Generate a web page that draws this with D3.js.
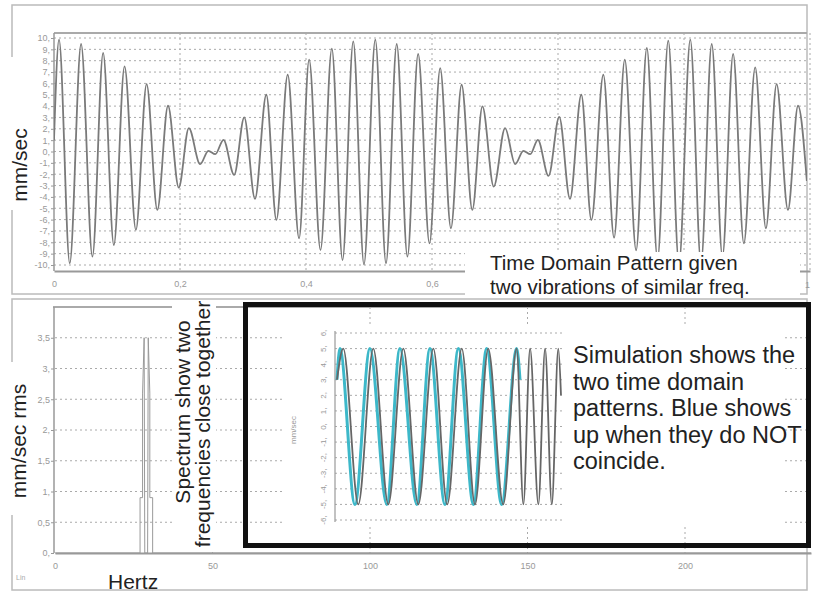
<!DOCTYPE html>
<html lang="en">
<head>
<meta charset="UTF-8">
<title>Beat vibration</title>
<script src="https://cdn.jsdelivr.net/npm/d3@7"></script>
<style>
  body{margin:0;background:#fff;}
  svg{display:block;font-family:"Liberation Sans",Arial,sans-serif;}
  .tick text{fill:#999;}
  .grid{stroke:#aaa;stroke-width:1;stroke-dasharray:2,3;}
</style>
</head>
<body>
<svg id="svg" width="814" height="592"></svg>
<script>
// time domain extrema (seconds, mm/sec)
var topT = [0, .008, .025, .043, .061, .078, .095, .112, .130, .147, .164, .181, .198, .214, .232, .245, .256,
  .269, .286, .302, .319, .337, .353, .371, .389, .405, .423, .441, .458, .475, .492, .510, .527, .544, .561,
  .578, .596, .613, .630, .647, .664, .680, .698, .716, .732, .745, .756, .768, .785, .802, .819, .837, .853,
  .872, .889, .906, .924, .941, .958, .975, .992, 1.010, 1.027, 1.044, 1.061, 1.078, 1.095, 1.113, 1.130,
  1.147, 1.165, 1.181, 1.195];
var topV = [1, 9.85, -9.85, 9.47, -9.26, 8.68, -8.24, 7.5, -6.9, 5.94, -5.15, 4.03, -3.18, 2.06, -1.12, .06, -.24,
  1.03, -2.06, 3.0, -4.18, 5.0, -6.03, 6.76, -7.65, 8.09, -8.68, 9.06, -9.56, 9.7, -9.94, 9.85, -9.85, 9.47, -9.26,
  8.59, -8.09, 7.35, -6.76, 5.88, -5.15, 3.97, -3.09, 2.06, -1.12, .06, -.24, 1.03, -2.15, 3.05, -4.18, 5.0, -6.03,
  6.76, -7.59, 8.09, -8.7, 9.12, -9.5, 9.76, -9.9, 9.85, -9.85, 9.47, -9.26, 8.59, -8.09, 7.41, -6.76,
  5.94, -5.15, 4.03, -2.6];
var topYTicks = d3.range(-10, 11);
var topXTicks = [0, .2, .4, .6, .8, 1, 1.2];
var topXLabels = [0, .2, .4, .6];   // 0,8 and 1 are hidden under the caption

// spectrum (Hz, mm/sec rms)
var specF = [0, 27.0, 27.0, 27.8, 27.8, 28.3, 28.5, 29.4, 29.6, 30.1, 30.1, 31.0, 31.0, 240];
var specA = [0, 0, 0.9, 0.9, 2.6, 3.5, 0, 0, 3.5, 2.6, 0.9, 0.9, 0, 0];
var specYTicks = [0, .5, 1, 1.5, 2, 2.5, 3, 3.5];
var specXTicks = [0, 50, 100, 150, 200];

// inset simulation, normalised time, mm/sec
var grayT = [0, .028, .095, .162, .229, .296, .363, .430, .492, .557, .616, .675, .742, .802, .832, .862, .899, .929, .959, .988, 1];
var grayV = [3, 5, -5, 5, -5, 5, -5, 5, -5, 5, -5, 5, -5, 5, -5, 5, -5, 5, -5, 5, 2];
var cyanT = [0, .013, .080, .147, .222, .281, .356, .415, .482, .542, .609, .668, .735, .802, .817];
var cyanV = [3, 5, -5, 5, -5, 5, -5, 5, -5, 5, -5, 5, -5, 5, 3];
var insetTicks = d3.range(-6, 7);

var svg = d3.select("svg");
var comma = function(d){ return String(d).replace(".", ","); };

// ---------- top panel ----------
svg.append("rect").attr("x", 12).attr("y", 5).attr("width", 795).attr("height", 289)
  .attr("fill", "none").attr("stroke", "#bbb").attr("stroke-width", 1.5);

var xTop = d3.scaleLinear().domain([0, 1.2]).range([54, 810]),
    yTop = d3.scaleLinear().domain([-10, 10]).range([265, 38]);

var gTop = svg.append("g");
gTop.selectAll(".hg").data(topYTicks).enter().append("line").attr("class", "grid")
  .attr("x1", 54).attr("x2", 807).attr("y1", d => yTop(d)).attr("y2", d => yTop(d));
gTop.selectAll(".vg").data(topXTicks.slice(1)).enter().append("line").attr("class", "grid")
  .attr("x1", d => xTop(d)).attr("x2", d => xTop(d)).attr("y1", 33).attr("y2", 271);

gTop.append("line").attr("x1", 54).attr("x2", 807).attr("y1", 33).attr("y2", 33).attr("stroke", "#aaa").attr("stroke-width", 2);
gTop.append("g").attr("transform", "translate(54,0)")
  .call(d3.axisLeft(yTop).tickValues(topYTicks).tickSize(3).tickPadding(1).tickFormat(d => d + ","))
  .call(g => g.select(".domain").remove())
  .call(g => g.selectAll("line").attr("stroke", "#999"))
  .call(g => g.selectAll("text").attr("font-size", 9));
gTop.append("line").attr("x1", 54).attr("x2", 54).attr("y1", 33).attr("y2", 271).attr("stroke", "#999").attr("stroke-width", 1.5);
gTop.append("g").attr("transform", "translate(0,271)")
  .call(d3.axisBottom(xTop).tickValues(topXLabels).tickSize(0).tickPadding(10).tickFormat(comma))
  .call(g => g.select(".domain").attr("stroke", "#999").attr("stroke-width", 2))
  .call(g => g.selectAll("text").attr("font-size", 9));
// last tick label sits at the right edge, only its first digit fits
svg.append("text").attr("x", xTop(1.2)).attr("y", 288).attr("text-anchor", "end")
  .attr("font-size", 9).attr("fill", "#999").text("1");

svg.append("clipPath").attr("id", "clipTop").append("rect").attr("x", 54).attr("y", 33).attr("width", 753).attr("height", 238);
gTop.append("path").datum(topT.map((t, i) => [t, topV[i]]))
  .attr("clip-path", "url(#clipTop)")
  .attr("fill", "none").attr("stroke", "#7a7a7a").attr("stroke-width", 1.8)
  .attr("d", d3.line().x(d => xTop(d[0])).y(d => yTop(d[1])).curve(d3.curveMonotoneX));

// ---------- bottom panel ----------
svg.append("rect").attr("x", 12).attr("y", 299).attr("width", 795).attr("height", 291)
  .attr("fill", "none").attr("stroke", "#bbb").attr("stroke-width", 1.5);

var xSp = d3.scaleLinear().domain([0, 240]).range([55, 811]),
    ySp = d3.scaleLinear().domain([0, 4]).range([553, 307]);

var gSp = svg.append("g");
gSp.selectAll(".hg").data(specYTicks.slice(1)).enter().append("line").attr("class", "grid")
  .attr("x1", 55).attr("x2", 807).attr("y1", d => ySp(d)).attr("y2", d => ySp(d));
gSp.selectAll(".vg").data(specXTicks.slice(1)).enter().append("line").attr("class", "grid")
  .attr("x1", d => xSp(d)).attr("x2", d => xSp(d)).attr("y1", 307).attr("y2", 553);
gSp.append("line").attr("x1", 53).attr("x2", 807).attr("y1", 307).attr("y2", 307).attr("stroke", "#aaa").attr("stroke-width", 2);
gSp.append("g").attr("transform", "translate(54,0)")
  .call(d3.axisLeft(ySp).tickValues(specYTicks).tickSize(3).tickPadding(1).tickFormat(d => d % 1 ? comma(d) : d + ","))
  .call(g => g.select(".domain").remove())
  .call(g => g.selectAll("line").attr("stroke", "#999"))
  .call(g => g.selectAll("text").attr("font-size", 9));
gSp.append("line").attr("x1", 54).attr("x2", 54).attr("y1", 307).attr("y2", 553).attr("stroke", "#999").attr("stroke-width", 1.5);
gSp.append("g").attr("transform", "translate(0,553)")
  .call(d3.axisBottom(xSp).tickValues(specXTicks).tickSize(0).tickPadding(10))
  .call(g => g.select(".domain").attr("stroke", "#999").attr("stroke-width", 2))
  .call(g => g.selectAll("text").attr("font-size", 9));
gSp.append("path").datum(specF.map((f, i) => [f, specA[i]]))
  .attr("fill", "none").attr("stroke", "#999").attr("stroke-width", 1)
  .attr("d", d3.line().x(d => xSp(d[0])).y(d => ySp(d[1])));
svg.append("text").attr("x", 16).attr("y", 580).attr("font-size", 7).attr("fill", "#aaa").text("Lin");

// ---------- inset simulation ----------
svg.append("rect").attr("x", 285).attr("y", 327).attr("width", 497).attr("height", 198).attr("fill", "#fff");
var xIn = d3.scaleLinear().domain([0, 1]).range([337, 561]),
    yIn = d3.scaleLinear().domain([-6, 6]).range([520, 333]);
var gIn = svg.append("g");
gIn.selectAll(".hg").data(insetTicks).enter().append("line").attr("class", "grid")
  .attr("x1", 335).attr("x2", 563).attr("y1", d => yIn(d)).attr("y2", d => yIn(d));
gIn.append("line").attr("x1", 335).attr("x2", 335).attr("y1", 331).attr("y2", 522).attr("stroke", "#999").attr("stroke-width", 1.2);
gIn.selectAll(".lab").data(insetTicks).enter().append("text")
  .attr("transform", d => "translate(326," + yIn(d) + ") rotate(-90)")
  .attr("text-anchor", "middle").attr("font-size", 8).attr("fill", "#999")
  .text(d => d + ",");
gIn.append("text").attr("transform", "translate(296,430) rotate(-90)")
  .attr("text-anchor", "middle").attr("font-size", 8).attr("fill", "#999").text("mm/sec");
var lineIn = d3.line().x(d => xIn(d[0])).y(d => yIn(d[1])).curve(d3.curveMonotoneX);
gIn.append("path").datum(cyanT.map((t, i) => [t, cyanV[i]]))
  .attr("fill", "none").attr("stroke", "#3db8c9").attr("stroke-width", 3).attr("d", lineIn);
gIn.append("path").datum(grayT.map((t, i) => [t, grayV[i]]))
  .attr("fill", "none").attr("stroke", "#666").attr("stroke-width", 1.8).attr("d", lineIn);

// ---------- annotations ----------
svg.append("rect").attr("x", 245.5).attr("y", 304.5).attr("width", 563).attr("height", 241)
  .attr("fill", "none").attr("stroke", "#111").attr("stroke-width", 5);

var boxText = ["Simulation shows the", "two time domain", "patterns. Blue shows", "up when they do NOT", "coincide."];
svg.append("g").selectAll("text").data(boxText).enter().append("text")
  .attr("x", 573).attr("y", (d, i) => 363 + i * 26.5)
  .attr("font-size", 23.5).attr("fill", "#222").text(d => d);

svg.append("rect").attr("x", 465).attr("y", 252).attr("width", 335).attr("height", 46).attr("fill", "#fff");
svg.append("text").attr("x", 490).attr("y", 270).attr("font-size", 20.5).attr("fill", "#222").text("Time Domain Pattern given");
svg.append("text").attr("x", 490).attr("y", 293.5).attr("font-size", 20.5).attr("fill", "#222").text("two vibrations of similar freq.");

svg.append("rect").attr("x", 172).attr("y", 300).attr("width", 44).attr("height", 250).attr("fill", "#fff");
svg.append("text").attr("transform", "translate(190,412) rotate(-90)").attr("text-anchor", "middle")
  .attr("font-size", 21).attr("fill", "#222").text("Spectrum show two");
svg.append("text").attr("transform", "translate(210,424) rotate(-90)").attr("text-anchor", "middle")
  .attr("font-size", 21).attr("fill", "#222").text("frequencies close together");

svg.append("rect").attr("x", 5).attr("y", 57).attr("width", 26).attr("height", 153).attr("fill", "#fff");
svg.append("text").attr("transform", "translate(27,165) rotate(-90)").attr("text-anchor", "middle")
  .attr("font-size", 21).attr("fill", "#222").text("mm/sec");
svg.append("rect").attr("x", 5).attr("y", 362).attr("width", 26).attr("height", 153).attr("fill", "#fff");
svg.append("text").attr("transform", "translate(26,441) rotate(-90)").attr("text-anchor", "middle")
  .attr("font-size", 21).attr("fill", "#222").text("mm/sec rms");
svg.append("text").attr("x", 108).attr("y", 589).attr("font-size", 21).attr("fill", "#222").text("Hertz");
</script>
</body>
</html>
